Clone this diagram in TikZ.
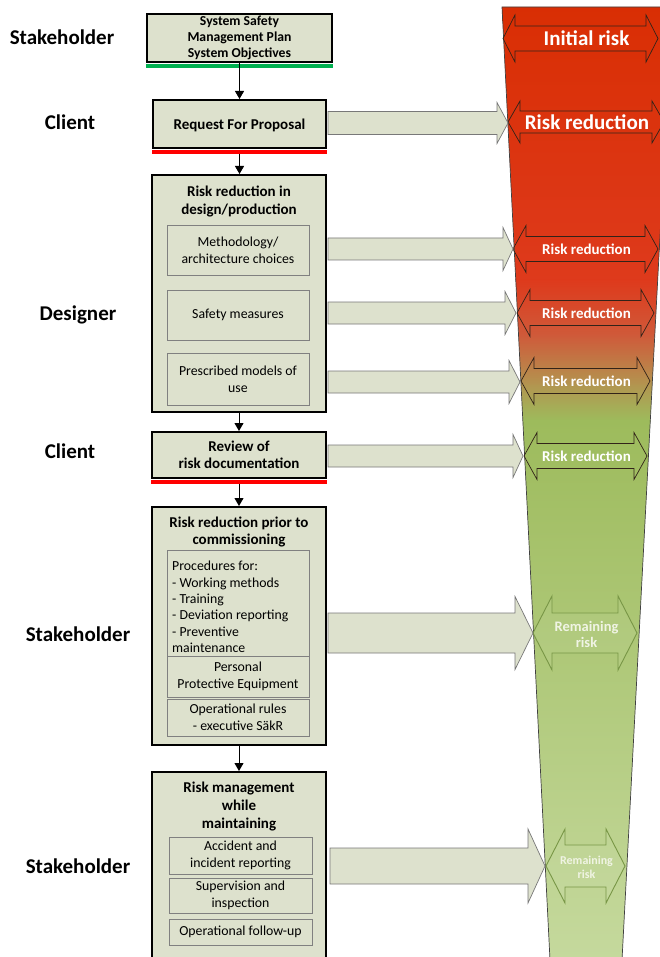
\documentclass[tikz,border=0pt]{standalone}
\usepackage{fontspec}
\setmainfont{Carlito}
\usetikzlibrary{arrows.meta}

\definecolor{boxfill}{RGB}{221,225,205}
\definecolor{innerline}{RGB}{128,128,128}
\definecolor{feedline}{RGB}{120,120,120}
\definecolor{ulgreen}{RGB}{0,176,80}
\definecolor{ulred}{RGB}{255,0,0}
\definecolor{riskred}{RGB}{217,46,3}
\definecolor{riskred2}{RGB}{222,58,28}
\definecolor{riskorange}{RGB}{207,90,58}
\definecolor{riskolive}{RGB}{178,150,80}
\definecolor{riskgreen}{RGB}{157,187,92}
\definecolor{palegreen}{RGB}{197,217,157}
\definecolor{spanline}{RGB}{50,35,25}
\definecolor{remline}{RGB}{120,150,70}
\definecolor{remtext}{RGB}{240,244,228}

% double-headed span arrow: style, left tip, right tip, centre y, head length, head half-height, shaft half-height
\newcommand\riskspan[7]{%
  \draw[#1] (#2,#4) -- (#2+#5,#4-#6) -- (#2+#5,#4-#7) -- (#3-#5,#4-#7)
    -- (#3-#5,#4-#6) -- (#3,#4) -- (#3-#5,#4+#6) -- (#3-#5,#4+#7)
    -- (#2+#5,#4+#7) -- (#2+#5,#4+#6) -- cycle;}
% block arrow: shaft start, head start, tip, centre y, shaft half-height, head half-height
\newcommand\feedarrow[6]{%
  \draw[feed] (#1,#4-#5) -- (#2,#4-#5) -- (#2,#4-#6) -- (#3,#4)
    -- (#2,#4+#6) -- (#2,#4+#5) -- (#1,#4+#5) -- cycle;}

\begin{document}
\begin{tikzpicture}[x=1pt,y=-1pt,
  outerbox/.style={draw=black, line width=2pt, fill=boxfill, inner sep=0pt},
  innerbox/.style={draw=innerline, line width=0.8pt, fill=boxfill, inner sep=0pt},
  role/.style={font=\fontsize{21}{24}\selectfont\bfseries},
  boxtitle/.style={font=\fontsize{15}{17.5}\selectfont\bfseries, align=center, inner sep=0pt},
  toptitle/.style={font=\fontsize{13.7}{16}\selectfont\bfseries, align=center, inner sep=0pt},
  body/.style={font=\fontsize{13.8}{17}\selectfont, align=center, inner sep=0pt},
  conn/.style={line width=0.9pt, -{Triangle[length=8pt,width=9pt]}},
  feed/.style={draw=feedline, line width=0.7pt, fill=boxfill},
  span/.style={draw=spanline, line width=0.7pt},
  remspan/.style={draw=remline, line width=0.9pt, fill=white, fill opacity=0.06},
  spanbig/.style={text=white, font=\fontsize{21}{24}\selectfont\bfseries},
  spansmall/.style={text=white, font=\fontsize{15}{18}\selectfont\bfseries},
  remlabel/.style={text=remtext, align=center, font=\fontsize{14.5}{16}\selectfont\bfseries},
  remlabelsmall/.style={text=remtext, align=center, font=\fontsize{12}{14}\selectfont\bfseries},
]
\useasboundingbox (0,0) rectangle (660,957);
\clip (0,0) rectangle (660,957);
\fill[white] (0,0) rectangle (660,957);

% ---------- risk funnel ----------
\coordinate (ftl) at (502,7);
\coordinate (ftr) at (672,7);
\coordinate (fbr) at (622,960);
\coordinate (fbl) at (550,960);
\begin{scope}
  \clip (ftl) -- (ftr) -- (fbr) -- (fbl) -- cycle;
  \shade[top color=riskred, bottom color=riskred2] (480,0) rectangle (690,281);
  \shade[top color=riskred2, bottom color=riskorange] (480,280) rectangle (690,336);
  \shade[top color=riskorange, bottom color=riskolive] (480,335) rectangle (690,386);
  \shade[top color=riskolive, bottom color=riskgreen] (480,385) rectangle (690,421);
  \shade[top color=riskgreen, bottom color=palegreen] (480,420) rectangle (690,960);
\end{scope}
\draw[line width=0.7pt, draw=black!75] (fbl) -- (ftl) -- (ftr) (ftr) -- (fbr);

% span arrows inside the funnel
\riskspan{span}{503}{658}{38.5}{12}{23.5}{12.5}
\riskspan{span}{508}{664}{122}{12}{21}{11}
\riskspan{span}{513}{658}{249}{13}{23.5}{12.5}
\riskspan{span}{517}{654}{313}{13}{23.5}{12.5}
\riskspan{span}{521}{650}{381}{13}{23.5}{12.5}
\riskspan{span}{524}{647}{456}{13}{23.5}{12.5}
\riskspan{remspan}{533}{637}{633}{19}{37}{20}
\riskspan{remspan}{546}{625}{866}{19}{37}{21}

\node[spanbig] (tinit) at (586.5,38) {Initial risk};
\node[spanbig] (trr1) at (587,122) {Risk reduction};
\node[spansmall] (trr2) at (586.5,249) {Risk reduction};
\node[spansmall] (trr3) at (586.5,313) {Risk reduction};
\node[spansmall] (trr4) at (586.5,381) {Risk reduction};
\node[spansmall] (trr5) at (586.5,456) {Risk reduction};
\node[remlabel] (trem1) at (586.5,634) {Remaining\\risk};
\node[remlabelsmall] (trem2) at (586.5,867) {Remaining\\risk};

% ---------- block arrows towards the funnel ----------
\feedarrow{328}{497}{508}{123}{11.5}{20.5}
\feedarrow{328}{503}{513}{249}{11}{21.5}
\feedarrow{328}{505}{516}{313}{11}{21.5}
\feedarrow{328}{509}{520}{382}{11}{21.5}
\feedarrow{328}{513}{523}{456}{11}{21.5}
\feedarrow{328}{515}{533}{633}{20}{36.5}
\feedarrow{330}{528}{545}{866}{18}{37}

% ---------- roles ----------
\node[role] (r1) at (62,37) {Stakeholder};
\node[role] (r2) at (70,122) {Client};
\node[role] (r3) at (78,315) {Designer};
\node[role] (r4) at (70,451) {Client};
\node[role] (r5) at (78,634) {Stakeholder};
\node[role] (r6) at (78,866) {Stakeholder};

% ---------- process boxes ----------
\node[outerbox, minimum width=185pt, minimum height=48pt] (b1) at (239.5,38) {};
\node[toptitle] (b1t) at (239.5,38) {System Safety\\Management Plan\\System Objectives};
\fill[ulgreen] ([yshift=-1pt]b1.south west) rectangle ([yshift=-5pt]b1.south east);

\node[outerbox, minimum width=173pt, minimum height=48pt] (b2) at (239.5,124) {};
\node[boxtitle] (b2t) at (239.5,125) {Request For Proposal};
\fill[ulred] ([yshift=-1pt]b2.south west) rectangle ([yshift=-5pt]b2.south east);

\node[outerbox, minimum width=174pt, minimum height=237pt] (b3) at (239,293.5) {};
\node[boxtitle] (b3t) at (239,201.5) {Risk reduction in\\design/production};
\node[innerbox, body, minimum width=142pt, minimum height=50pt] (b3a) at (238,250) {Methodology/\\architecture choices};
\node[innerbox, body, minimum width=142pt, minimum height=50pt] (b3b) at (238,315) {Safety measures};
\node[innerbox, body, minimum width=142pt, minimum height=52pt] (b3c) at (238,379) {Prescribed models of\\use};

\node[outerbox, minimum width=174pt, minimum height=46pt] (b4) at (239,455) {};
\node[boxtitle] (b4t) at (239,455) {Review of\\risk documentation};
\fill[ulred] ([yshift=-1pt]b4.south west) rectangle ([yshift=-5pt]b4.south east);

\node[outerbox, minimum width=174pt, minimum height=238pt] (b5) at (239,626) {};
\node[boxtitle] (b5t) at (239,532) {Risk reduction prior to\\commissioning};
\node[innerbox, minimum width=142pt, minimum height=106pt] (b5a) at (238,603) {};
\node[body, align=left, anchor=west, font=\fontsize{13.8}{16.4}\selectfont] (b5at) at (172,607)
  {Procedures for:\\- Working methods\\- Training\\- Deviation reporting\\- Preventive\\maintenance};
\node[innerbox, body, minimum width=142pt, minimum height=41pt] (b5b) at (238,676.5) {Personal\\Protective Equipment};
\node[innerbox, body, minimum width=142pt, minimum height=37pt] (b5c) at (238,717.5) {Operational rules\\- executive SäkR};

\node[outerbox, minimum width=174pt, minimum height=200pt] (b6) at (239,872) {};
\node[boxtitle, font=\fontsize{15}{18}\selectfont\bfseries] (b6t) at (239,806) {Risk management\\while\\maintaining};
\node[innerbox, body, minimum width=143pt, minimum height=37pt] (b6a) at (240.5,855.5) {Accident and\\incident reporting};
\node[innerbox, body, minimum width=143pt, minimum height=35pt] (b6b) at (240.5,895.5) {Supervision and\\inspection};
\node[innerbox, body, minimum width=143pt, minimum height=26pt] (b6c) at (240.5,932) {Operational follow-up};

% ---------- flow between boxes ----------
\draw[conn] (b1.south) -- (b1.south |- b2.north);
\draw[conn] ([yshift=-5pt]b2.south) -- (b2.south |- b3.north);
\draw[conn] (b3.south) -- (b3.south |- b4.north);
\draw[conn] ([yshift=-5pt]b4.south) -- (b4.south |- b5.north);
\draw[conn] (b5.south) -- (b5.south |- b6.north);
\end{tikzpicture}
\end{document}
